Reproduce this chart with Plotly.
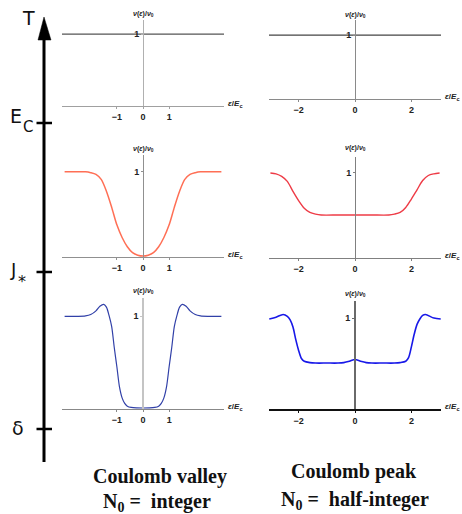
import plotly.graph_objects as go

W, H = 462, 514

# ---------------- data ----------------
flat_left_x = [-3.1, 3.1]
flat_right_x = [-3.05, 3.05]
flat_y = [1.0, 1.0]

valley_hot_x = [-3.0, -2.6, -2.2, -2.0, -1.8, -1.6, -1.4, -1.2, -1.0, -0.8, -0.6, -0.4, -0.2, 0.0,
                0.2, 0.4, 0.6, 0.8, 1.0, 1.2, 1.4, 1.6, 1.8, 2.0, 2.2, 2.6, 3.0]
valley_hot_y = [1.0, 1.0, 1.0, 0.99, 0.97, 0.91, 0.77, 0.58, 0.37, 0.22, 0.11, 0.04, 0.01, 0.0,
                0.01, 0.04, 0.11, 0.22, 0.37, 0.58, 0.77, 0.91, 0.97, 0.99, 1.0, 1.0, 1.0]

peak_hot_x = [-3.0, -2.8, -2.6, -2.4, -2.2, -2.0, -1.8, -1.6, -1.4, -1.2, -0.6, 0.0,
              0.6, 1.2, 1.4, 1.6, 1.8, 2.0, 2.2, 2.4, 2.6, 2.8, 3.0]
peak_hot_y = [1.0, 0.99, 0.96, 0.9, 0.78, 0.67, 0.58, 0.53, 0.51, 0.5, 0.5, 0.5,
              0.5, 0.5, 0.51, 0.53, 0.59, 0.69, 0.8, 0.91, 0.97, 0.99, 1.0]

valley_mid_x = [-3.0, -2.5, -2.2, -2.0, -1.8, -1.65, -1.5, -1.4, -1.3, -1.2, -1.1, -1.0, -0.9, -0.8,
                -0.7, -0.6, -0.45, -0.25, 0.0, 0.25, 0.45, 0.6, 0.7, 0.8, 0.9, 1.0, 1.1, 1.2,
                1.3, 1.4, 1.5, 1.65, 1.8, 2.0, 2.2, 2.5, 3.0]
valley_mid_y = [1.0, 1.0, 1.005, 1.02, 1.06, 1.11, 1.13, 1.1, 1.01, 0.89, 0.66, 0.45, 0.23, 0.11,
                0.05, 0.02, 0.006, 0.001, 0.0, 0.001, 0.006, 0.02, 0.05, 0.11, 0.23, 0.45, 0.66, 0.89,
                1.01, 1.1, 1.13, 1.11, 1.06, 1.02, 1.005, 1.0, 1.0]

peak_mid_x = [-3.04, -2.8, -2.55, -2.4, -2.3, -2.2, -2.1, -2.0, -1.9, -1.8, -1.6, -1.4, -1.0,
              -0.6, -0.4, -0.2, 0.0, 0.2, 0.4, 0.6, 1.0, 1.4, 1.6, 1.8, 1.9, 2.0, 2.1, 2.2,
              2.3, 2.4, 2.5, 2.8, 3.04]
peak_mid_y = [0.99, 1.01, 1.04, 1.02, 0.98, 0.9, 0.76, 0.64, 0.55, 0.52, 0.505, 0.5, 0.5,
              0.5, 0.505, 0.52, 0.54, 0.52, 0.505, 0.5, 0.5, 0.5, 0.505, 0.52, 0.56, 0.68, 0.82, 0.93,
              0.99, 1.03, 1.04, 1.0, 0.99]

left_ticks = [-1, 0, 1]
right_ticks = [-2, 0, 2]
y_ticks = [1]

temp_labels = ["T", "E", "C", "J", "*", "δ"]
bottom_labels = ["<b>Coulomb valley</b>", "<b>N<sub>0</sub> =  integer</b>",
                 "<b>Coulomb peak</b>", "<b>N<sub>0</sub> =  half-integer</b>"]

# ---------------- layout helpers ----------------
def px_x(p):
    return p / W

def px_y(p):
    return 1 - p / H

YMIN = -0.012

panels = [
    dict(xl=62, xr=224, xr_=[-3.1, 3.1], top=20, zero=105, ymax=1.2, x0=143,
         ax="#a0a0a0", ay="#b0b0b0", axw=1, ayw=1, ticks=left_ticks, lab_y=14),
    dict(xl=269, xr=441, xr_=[-3.05, 3.05], top=20, zero=98, ymax=1.24, x0=355,
         ax="#8a8a8a", ay="#8a8a8a", axw=1, ayw=1, ticks=right_ticks, lab_y=15),
    dict(xl=62, xr=224, xr_=[-3.1, 3.1], top=155, zero=256, ymax=1.2, x0=143,
         ax="#909090", ay="#909090", axw=1, ayw=1, ticks=left_ticks, lab_y=149),
    dict(xl=269, xr=441, xr_=[-3.05, 3.05], top=157, zero=257, ymax=1.19, x0=355,
         ax="#808080", ay="#808080", axw=1, ayw=1, ticks=right_ticks, lab_y=148),
    dict(xl=62, xr=224, xr_=[-3.1, 3.1], top=298, zero=408, ymax=1.2, x0=143,
         ax="#888888", ay="#c4c4c4", axw=1, ayw=1.5, ticks=left_ticks, lab_y=291),
    dict(xl=269, xr=441, xr_=[-3.05, 3.05], top=301, zero=408, ymax=1.19, x0=355,
         ax="#111111", ay="#6a6a6a", axw=2, ayw=1.8, ticks=right_ticks, lab_y=294),
]

series = [
    (flat_left_x, flat_y, "#555555", 1.4),
    (flat_right_x, flat_y, "#444444", 1.4),
    (valley_hot_x, valley_hot_y, "#FF6F55", 1.5),
    (peak_hot_x, peak_hot_y, "#EE3B46", 1.4),
    (valley_mid_x, valley_mid_y, "#3140A8", 1.2),
    (peak_mid_x, peak_mid_y, "#1818E8", 1.6),
]

fig = go.Figure()
layout = dict(width=W, height=H, margin=dict(l=0, r=0, t=0, b=0),
              paper_bgcolor="white", plot_bgcolor="rgba(0,0,0,0)", showlegend=False)

tickfont = dict(family="Liberation Sans", size=9, color="#222222", weight="bold")
annotations = []

for i, (p, s) in enumerate(zip(panels, series), start=1):
    ppu = (p["zero"] - p["top"]) / p["ymax"]
    bottom_px = p["zero"] - YMIN * ppu
    xa = "x" if i == 1 else f"x{i}"
    ya = "y" if i == 1 else f"y{i}"
    xk = "xaxis" if i == 1 else f"xaxis{i}"
    yk = "yaxis" if i == 1 else f"yaxis{i}"
    layout[xk] = dict(domain=[px_x(p["xl"]), px_x(p["xr"])], range=p["xr_"], anchor=ya,
                      showgrid=False, zeroline=False, showline=True, linecolor=p["ax"],
                      linewidth=p["axw"], ticks="outside", ticklen=2, tickcolor=p["ax"],
                      tickvals=p["ticks"], tickfont=tickfont, fixedrange=True)
    layout[yk] = dict(domain=[px_y(bottom_px), px_y(p["top"])], range=[YMIN, p["ymax"]],
                      anchor="free", position=px_x(p["x0"]), showgrid=False, zeroline=False,
                      showline=True, linecolor=p["ay"], linewidth=p["ayw"], ticks="outside",
                      ticklen=2, tickcolor=p["ay"], tickvals=y_ticks, tickfont=tickfont,
                      fixedrange=True)
    fig.add_trace(go.Scatter(x=s[0], y=s[1], mode="lines", xaxis=xa, yaxis=ya,
                             line=dict(color=s[2], width=s[3], shape="spline", smoothing=0.8),
                             hoverinfo="skip"))
    annotations.append(dict(text="<b><i>ν</i>(<i>ε</i>)/<i>ν</i><sub>0</sub></b>", xref="paper", yref="paper",
                            x=px_x(p["x0"]), y=px_y(p["lab_y"]), showarrow=False,
                            xanchor="center", yanchor="middle",
                            font=dict(family="Liberation Sans", size=7, color="#222222")))
    annotations.append(dict(text="<b><i>ε</i>/<i>E</i><sub>c</sub></b>", xref="paper", yref="paper",
                            x=px_x(p["xr"] + 2), y=px_y(p["zero"] - 1), showarrow=False,
                            xanchor="left", yanchor="middle",
                            font=dict(family="Liberation Sans", size=8, color="#222222")))

lab_font = dict(family="DejaVu Sans", color="#111111")
temp_pos = [(28, 18, 19), (16, 116, 19), (28, 127, 15), (13, 269, 18), (22, 281, 16), (18, 428, 19)]
for t, (xp, yp, fs) in zip(temp_labels, temp_pos):
    annotations.append(dict(text=t, xref="paper", yref="paper", x=px_x(xp), y=px_y(yp),
                            showarrow=False, xanchor="center", yanchor="middle",
                            font=dict(size=fs, **lab_font)))

bottom_pos = [(160, 476), (157, 502), (354, 471), (355, 500)]
for t, (xp, yp) in zip(bottom_labels, bottom_pos):
    annotations.append(dict(text=t, xref="paper", yref="paper", x=px_x(xp), y=px_y(yp),
                            showarrow=False, xanchor="center", yanchor="middle",
                            font=dict(family="Liberation Serif", size=20, color="#111111")))

shapes = [
    dict(type="line", xref="paper", yref="paper", x0=px_x(44), x1=px_x(44), y0=px_y(462), y1=px_y(36),
         line=dict(color="black", width=3)),
    dict(type="path", xref="paper", yref="paper",
         path=f"M {px_x(44)} {px_y(17)} L {px_x(38)} {px_y(40)} L {px_x(51)} {px_y(40)} Z",
         fillcolor="black", line=dict(color="black", width=0.5)),
]
for yp in [123, 272, 429]:
    shapes.append(dict(type="line", xref="paper", yref="paper", x0=px_x(36.5), x1=px_x(52),
                       y0=px_y(yp), y1=px_y(yp), line=dict(color="black", width=2.5)))

layout["annotations"] = annotations
layout["shapes"] = shapes
fig.update_layout(**layout)
fig.write_html("out.html")
